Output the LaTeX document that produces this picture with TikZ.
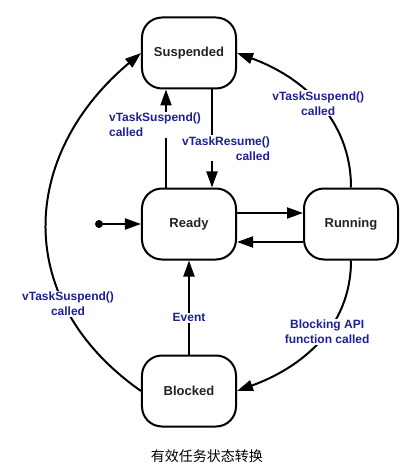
\documentclass[tikz,border=0pt]{standalone}
\usepackage{fontspec}
\setmainfont{Liberation Sans}
\newfontfamily\cjk{Noto Sans CJK SC}
\usetikzlibrary{shapes.geometric, arrows.meta}
\definecolor{condblue}{RGB}{32,32,144}
\definecolor{statetext}{RGB}{34,34,34}

\begin{document}
\begin{tikzpicture}[node distance=170pt]
\tikzstyle{state} = [rectangle, rounded corners=20pt, minimum width=94pt, minimum height=71pt, text centered, draw=black, line width=2pt, text=statetext, font=\bfseries\fontsize{13}{15}\selectfont]
\tikzstyle{startdot} = [circle, fill=black, inner sep=0pt, minimum size=8pt]
\tikzstyle{cond} = [fill=white, inner sep=1pt, text=condblue, font=\bfseries\fontsize{12}{15}\selectfont]
\tikzstyle{captiontext} = [text=black, font=\cjk\fontsize{14}{16}\selectfont]
\tikzstyle{arrow} = [line width=2pt, ->, >={Triangle[length=16pt,width=11pt]}]
\useasboundingbox (-189pt,-250pt) rectangle (225pt,224pt);
 %状态节点
\node (ready) [state] {Ready};
\node (suspended) [state, above of=ready, yshift=1pt] {Suspended};
\node (running) [state, right of=ready, xshift=-8pt] {Running};
\node (blocked) [state, below of=ready, yshift=3pt] {Blocked};
\node (start) [startdot, left of=ready, xshift=80pt] {};
\node (title) [captiontext, node distance=65pt, below of=blocked, xshift=18pt] {有效任务状态转换};

 %状态转换
\draw [arrow](start) -- (ready);
\draw [arrow]([yshift=11pt]ready.east) -- ([yshift=11pt]running.west);
\draw [arrow]([yshift=-18pt]running.west) -- ([yshift=-18pt]ready.east);
\draw [arrow]([xshift=-23pt]ready.north) -- node[cond, align=left, pos=0.64, xshift=-11pt] {vTaskSuspend()\\called} ([xshift=-23pt]suspended.south);
\draw [arrow]([xshift=23pt]suspended.south) -- node[cond, align=right, pos=0.6, xshift=14pt] {vTaskResume()\\called} ([xshift=23pt]ready.north);
\draw [arrow](running.north) to[out=90, in=-20] node[cond, align=center, pos=0.5] {vTaskSuspend()\\called} (suspended.east);
\draw [arrow](running.south) to[out=-90, in=20] node[cond, align=center, pos=0.42] {Blocking API\\function called} (blocked.east);
\draw [arrow](blocked.west) to[out=145, in=220, looseness=1.2] node[cond, align=center, pos=0.28, xshift=4pt] {vTaskSuspend()\\called} (suspended.west);
\draw [arrow](blocked) -- node[cond, pos=0.39] {Event} (ready);
\end{tikzpicture}
\end{document}
